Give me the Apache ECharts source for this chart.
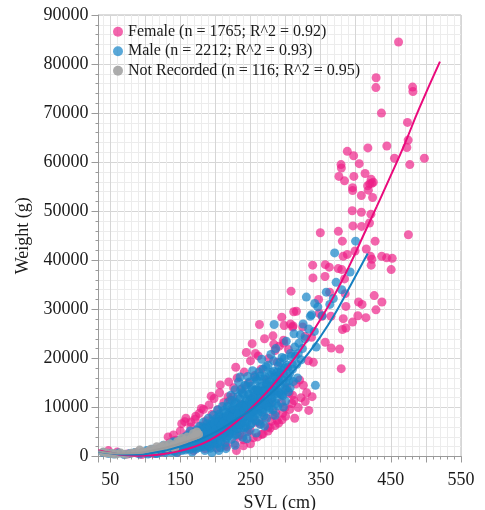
<!DOCTYPE html>
<html>
<head>
<meta charset="utf-8">
<script src="https://cdn.jsdelivr.net/npm/echarts@6/dist/echarts.min.js"></script>
<style>
  html, body { margin: 0; padding: 0; background: #fff; }
  #main { width: 485px; height: 510px; }
</style>
</head>
<body>
<div id="main"></div>
<script>
// scatter points [SVL cm, weight g]
var femalePts = [
  [47.6,1200],[60,900],[75,500],[88,700],[95,400],[105,1000],[112,600],[118,1500],[124,900],[128,2100],
  [132.6,4000],[135,2800],[138,1500],[140.2,4400],[143,3300],[146,900],[148,2300],[150,5200],[152,6700],[154,3600],
  [156.4,7100],[158,7800],[159,1600],[161,4600],[163,2800],[165,6000],[167,3900],[169,1200],[171,7600],[173,5000],
  [175,2400],[177,8800],[179,6200],[181,3800],[183,9600],[185,1600],[187,7300],[189,4800],[191,10500],[193,2600],
  [195,8600],[196.7,3000],[198,11800],[200,6200],[202,1700],[204,9600],[206,13000],[208,4600],[210,7800],[212,11000],
  [214,2300],[216,2000],[218,12200],[220,5600],[221,11500],[223,9300],[225,12200],[226,14000],[227.6,2700],[229,7200],
  [231,16000],[233,4200],[235,4400],[236,10600],[238,13800],[239.9,3400],[241,17200],[243,8500],[245,5000],[247,15000],
  [249.4,5400],[250,19500],[252,11800],[254,3800],[256,16500],[258,7000],[260,13300],[261,20500],[263.7,6700],[265,17800],
  [266,4500],[268,10600],[270,24000],[271,8000],[273,15600],[275,6000],[276,20000],[278,10900],[280,7200],[282,24600],
  [284,13400],[286,9000],[288,19200],[290,6800],[292,16600],[294,11000],[296,8800],[299,9900],[302,14000],[305,12900],
  [309,10800],[310,12500],[313,7800],[315,14800],[320,15600],[325.4,14500],[330,13000],[333,9400],[285,21600],[291,22500],
  [297,23700],[304,21800],[327.8,24500],[337,24300],[332.5,19500],[339.6,19200],[294.6,28400],[298,26700],[307,27000],[310,26400],
  [275,5200],[285,6300],[295,7500],[300,8200],[318,10000],[322,12000],[282.6,8400],[337.8,12200],[379.3,17900],
  [165,7000],[172,8200],[180,9800],[194,12300],[207,14600],[219,15200],[229,18200],[244,21200],
  [230,1200],[240,2200],[250,2600],[260,4000],[268,4600],[278,5800],[288,7400],[306,9600],[312,11400],[328,11200],
  [252.4,23000],[257,21000],[283.2,22900],[297.4,23100],[356.6,23300],[365,22100],[377,21900],
  [262.8,26900],[310.7,26600],[324.4,26400],[381,25900],[386,26200],
  [311.6,29500],[315.4,29600],[348,29200],[352,28600],[364.7,28600],[382.2,28100],[403,28700],[414.5,28300],[395.5,27400],
  [307.8,33700],[362.8,33500],[385,33200],[347.1,32000],[386,30600],[404,31500],[409,31000],[426.3,32800],[437.3,31500],[428.8,29900],
  [338.6,39000],[356.6,39100],[362.3,38600],[375,38300],[380,38100],[422,39000],[450.5,38100],[339,36400],[356.2,36700],[384,36200],
  [382,40800],[388,41200],[399,41900],[415,42300],[421,40800],[423,40200],[437,40800],[444,40500],[452,40400],
  [349.5,45600],[375.2,45900],[380.9,43900],[427.6,43900],[475,45200],[396,47000],[408.3,46900],[419.6,47600],
  [395,50100],[408,49800],[421.6,49400],[408,53200],[424,52800],[395.5,54800],[395.5,54200],[417,55200],[418,54300],
  [420,55600],[425,55900],[422,56500],[423,55700],[376,57100],[384,56200],[397.3,57100],[413.3,57700],
  [379,59500],[379.5,58800],[405,59700],[477,59500],[455.2,60800],[497.8,60800],[397,61300],[388,62200],[417.3,62900],
  [444.3,63300],[472.8,63000],[474.7,64500],[473.7,68100],[436.6,70000],[481.5,74400],[481,75300],[428.7,75200],[429,77200],[461,84500]
];
var malePts = [
  [40,800],[48,600],[55,500],[62,700],[70,400],[78,600],[85,800],[92,500],
  [95,800],[102,1200],[106,700],[110,1500],[114,900],[117,600],[122,1100],[126,2300],[129,800],[134,1800],[136,2400],[138,900],[140,3000],[142,1100],
  [100,700],[104,500],[108,900],[112,1100],[115,600],[118,1400],[121,900],[124,1300],[127,1800],[130,1100],[132,2200],[135,1500],
  [137,2600],[139,1200],[141,1900],[143,2900],[145,800],[147,2200],[149,3300],[151,1600],[153,2700],[155,3800],[157,1300],[158,2300],[160,3100],[160,4300],
  [162,1800],[163,2700],[164,5200],[166,3600],[167,900],[168,2300],[170,4200],[171,3000],[172,1500],[173,5400],[175,3500],[176,2500],[177,6100],[178,4400],[179,1900],[180,3300],
  [181,5200],[182,2700],[183,7000],[184,4100],[185,1200],[186,3400],[187,6000],[188,4800],[189,2300],[190,7800],[191,3700],[192,5500],[193,1700],[194,4300],[195,6600],[196,3100],[197,8400],[198,5000],[199,2500],[200,6000],
  [201,4000],[202,7200],[203,9500],[204,3300],[205,5600],[206,8100],[207,1800],[208,4700],[209,6700],[210,10200],[211,3900],[212,5900],[213,7800],[214,2800],[215,9000],[216,5000],[217,6900],[218,11000],[219,4200],[220,8000],
  [221,6000],[222,12500],[223,3500],[224,9400],[225,7200],[226,5200],[227,10800],[228,13600],[229,8300],[230,4500],[231,6600],[232,9800],[233,15200],[234,7600],[235,11800],[236,5600],[237,9000],[238,13000],[239,3900],[240,10400],
  [241,7800],[242,14500],[243,6100],[244,11600],[245,9200],[246,16300],[247,5200],[248,12700],[249,8400],[250,10500],[251,14300],[252,6800],[253,17500],[254,11200],[255,9600],[256,13500],[257,7400],[258,15800],[259,10800],[260,12500],
  [261,8800],[262,17200],[263,14200],[264,6500],[265,11400],[266,19800],[267,13300],[268,9600],[269,15800],[270,12100],[272,18300],[273,7800],[274,14600],[276,11000],[277,16700],[279,20800],[280,13200],[282,9500],[283,17400],[285,14800],
  [286,22000],[288,11800],[290,18500],[291,15300],[293,12800],[295,20200],[297,16800],[299,13900],[301,23500],[303,18200],[305,15500],[307,21000],[310,17800],[312,25000],[314,20500],[317,16000],[319,23100],[322,19700],[325,27000],[328,24000],
  [141,1300],[144,2000],[146,1600],[148,2800],[150,2000],[152,1200],[154,2400],[156,3000],[158,1900],[159,3600],
  [161,2400],[162,3300],[164,1500],[165,4100],[166,2200],[168,3000],[169,4800],[170,1900],[172,3600],[174,2900],
  [174,4700],[176,1800],[177,3900],[178,5300],[180,2500],[181,4000],[182,6000],[183,3100],[184,2000],[185,5000],
  [186,4300],[187,2900],[188,6700],[189,3700],[190,5200],[191,2000],[192,4400],[193,6300],[194,3300],[195,5400],
  [196,7200],[197,2700],[198,4200],[199,6200],[200,3600],[201,7700],[202,5000],[203,2600],[204,6400],[205,8600],
  [206,4300],[207,6000],[208,3000],[209,8000],[210,5500],[211,7000],[212,9400],[213,4500],[214,6200],[215,7600],
  [216,3700],[217,10200],[218,5600],[219,8600],[220,6600],[221,4800],[222,9600],[223,7300],[224,11400],[225,5800],
  [226,8600],[227,6700],[228,4400],[229,11000],[230,9000],[231,7400],[232,12200],[233,5700],[234,10000],[235,8500],
  [236,13600],[237,6700],[238,10600],[239,8000],[240,12800],[241,5800],[242,9600],[243,11200],[244,14400],[245,7000],
  [246,10000],[247,12700],[248,8500],[249,15200],[250,6500],[251,11800],[252,9300],[253,13600],[254,7900],[255,12300],
  [256,16200],[257,10200],[258,8800],[259,13700],[260,15500],[261,11200],[262,7200],[263,12700],[264,16400],[265,9800],
  [266,14300],[267,11500],[268,17800],[269,8300],[270,13600],[271,16200],[272,11200],[273,14700],[274,10300],[275,18600],
  [276,13700],[277,9600],[278,15300],[279,12500],[280,17100],[281,11000],[282,14400],[283,19500],[284,12600],[285,16300],
  [287,13600],[288,17200],[289,10300],[290,15200],[292,19200],[293,14500],[294,17600],[296,12400],[298,20000],[300,15100],
  [302,18600],[304,13200],[306,17000],[308,20400],[311,15300],[313,22300],[316,18800],[318,21000],[321,24800],[324,22000],
  [150.5,2600],[151.5,1800],[153.5,3200],[155.5,2100],[157.5,2800],[160.5,1700],[162.5,3900],[163.5,2100],[165.5,3300],[167.5,2600],
  [169.5,3700],[171.5,2200],[173.5,4200],[175.5,3000],[177.5,2200],[179.5,4600],[180.5,3800],[182.5,2900],[184.5,5600],[186.5,3800],
  [188.5,5100],[190.5,3200],[192.5,6000],[194.5,4800],[196.5,3800],[198.5,6700],[200.5,5400],[202.5,4300],[204.5,7000],[206.5,5200],
  [208.5,6300],[210.5,4600],[212.5,7200],[214.5,5400],[216.5,8300],[218.5,6300],[220.5,5300],[222.5,7900],[224.5,6200],[226.5,9700],
  [228.5,7000],[230.5,5800],[232.5,8700],[234.5,6500],[236.5,10300],[238.5,7400],[240.5,9300],[242.5,6900],[244.5,10400],[246.5,8300],
  [248.5,11300],[250.5,8000],[252.5,10700],[254.5,9200],[256.5,11700],[258.5,9500],[260.5,13400],[262.5,10200],[264.5,12000],[266.5,9000],
  [268.5,13100],[270.5,10700],[272.5,15000],[274.5,12200],[276.5,10000],[278.5,14200],[280.5,11800],[282.5,16000],[284.5,13400],[286.5,10800],
  [288.5,15900],[290.5,13000],[292.5,17100],[294.5,12600],[296.5,15600],[298.5,18100],[300.5,13600],[303.5,16400],[306.5,14000],[309.5,18800],
  [333,26000],[337,28900],[341,25500],[346,30500],[352,28700],[358,33500],[363,31000],[372,35500],[380,34000],[392,37600],
  [195,800],[205,1200],[215,1600],[228,2300],[245,3600],[258,4800],[270,6200],[285,8400],[296.9,10100],[300,11300],
  [235.2,16200],[283.7,26900],[343.6,22300],[342.5,14500],[329.6,32500],[341.5,31200],[368,32200],[335.3,28600],[369.9,41500],[399.8,43900]
];
var unknownPts = [
  [40,900],[45,700],[52,600],[58,500],[65,700],[72,450],[80,650],[86,800],[92,1300],[97,900],
  [104,1000],[108,1500],[113,1200],[116.5,2000],[120,1600],[123,2000],[127,2300],[131,1800],[135,2600],[140,2200],
  [142,1700],[146,3000],[149,3000],[152,3700],[156,3300],[160,4000],[165,3600],[168.7,4700],[171,4200],[173.5,5000],[176,4500]
];

// fitted curves
var femaleFit = [[33,1300],[50,750],[70,300],[90,150],[110,250],[130,600],[150,1150],[170,2000],[190,3200],[210,4900],
  [230,7100],[250,9700],[270,12600],[290,15900],[310,19500],[330,23500],[350,28000],[370,33000],[390,38600],[410,44800],
  [430,51000],[450,57300],[470,63800],[490,70800],[520,80500]];
var maleFit = [[33,1000],[50,650],[70,420],[90,420],[110,700],[130,1250],[150,2050],[170,3050],[190,4300],[210,5800],
  [230,7600],[250,9400],[270,11700],[290,14300],[310,17200],[330,20600],[350,24500],[370,29000],[390,34200],[417,41400]];
var unknownFit = [[33,1050],[50,720],[70,600],[90,700],[110,1250],[130,1850],[150,2650],[165,3300],[178,3950]];

var seriesNames = ['Female (n = 1765; R^2 = 0.92)', 'Male (n = 2212; R^2 = 0.93)', 'Not Recorded (n = 116; R^2 = 0.95)'];
var xLabelValues = [50, 150, 250, 350, 450, 550];

var serif = 'Liberation Serif';
var femaleColor = '#ee1d86', maleColor = '#1b87c9', unknownColor = '#a3a3a3';

var myChart = echarts.init(document.getElementById('main'));

function fitLine(name, data, color) {
  return {
    name: name, type: 'line', data: data, smooth: true, symbol: 'none',
    lineStyle: { color: color, width: 2 }, z: 5, silent: true
  };
}

myChart.setOption({
  animation: false,
  grid: {
    left: 98.5, right: 24, top: 15, bottom: 53.5, outerBoundsMode: 'none',
    show: true, borderColor: '#b8b8b8', borderWidth: 1
  },
  legend: {
    data: seriesNames, orient: 'vertical', left: 113, top: 22, padding: 0,
    icon: 'circle', itemWidth: 10, itemHeight: 10, itemGap: 0,
    textStyle: { fontFamily: serif, fontSize: 16, color: '#1a1a1a', lineHeight: 19.5 }
  },
  xAxis: [
    {
      // minor grid, every 10
      type: 'value', min: 33.4, max: 550, splitNumber: 52,
      axisLine: { show: true, lineStyle: { color: '#9a9a9a' } },
      axisTick: { show: true, length: 3, lineStyle: { color: '#9a9a9a' } },
      axisLabel: { show: false },
      splitLine: { show: true, lineStyle: { color: '#ececec' } }
    },
    {
      // major grid every 50, labels every 100
      type: 'value', min: 33.4, max: 550, splitNumber: 10, position: 'bottom',
      name: 'SVL (cm)', nameLocation: 'middle', nameGap: 35,
      nameTextStyle: { fontFamily: serif, fontSize: 18, color: '#1a1a1a' },
      axisLine: { show: false },
      axisTick: { show: true, length: 6, lineStyle: { color: '#9a9a9a' } },
      axisLabel: {
        fontFamily: serif, fontSize: 18, color: '#1a1a1a', margin: 15,
        formatter: function (v) { return xLabelValues.indexOf(Math.round(v * 10) / 10) >= 0 ? String(v) : ''; }
      },
      splitLine: { show: true, lineStyle: { color: '#d6d6d6' } }
    }
  ],
  yAxis: {
    type: 'value', min: 0, max: 90000, interval: 10000,
    name: 'Weight (g)', nameLocation: 'middle', nameGap: 63,
    nameTextStyle: { fontFamily: serif, fontSize: 18, color: '#1a1a1a' },
    axisLine: { show: true, lineStyle: { color: '#9a9a9a' } },
    axisTick: { show: true, length: 7, lineStyle: { color: '#9a9a9a' } },
    minorTick: { show: true, splitNumber: 5, length: 3, lineStyle: { color: '#9a9a9a' } },
    axisLabel: {
      fontFamily: serif, fontSize: 18, color: '#1a1a1a', margin: 10,
      formatter: function (v) { return String(v); }
    },
    splitLine: { show: true, lineStyle: { color: '#d6d6d6' } },
    minorSplitLine: { show: true, lineStyle: { color: '#ececec' } }
  },
  series: [
    { name: seriesNames[0], type: 'scatter', data: femalePts, symbolSize: 9,
      itemStyle: { color: femaleColor, opacity: 0.68 }, z: 2 },
    { name: seriesNames[1], type: 'scatter', data: malePts, symbolSize: 9,
      itemStyle: { color: maleColor, opacity: 0.72 }, z: 3 },
    { name: seriesNames[2], type: 'scatter', data: unknownPts, symbolSize: 9,
      itemStyle: { color: unknownColor, opacity: 0.9 }, z: 4 },
    fitLine('Female fit', femaleFit, '#ea0a7c'),
    fitLine('Male fit', maleFit, '#157fc0'),
    fitLine('Not Recorded fit', unknownFit, '#9c9c9c')
  ]
});
</script>
</body>
</html>
